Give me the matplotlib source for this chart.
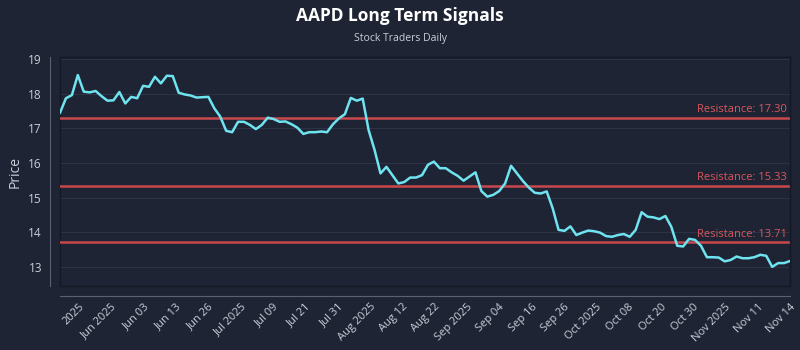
import matplotlib
matplotlib.use('Agg')
import matplotlib.pyplot as plt
import numpy as np
from matplotlib.patches import Rectangle

# closing prices (one per trading day)
prices = [
    17.45, 17.87, 17.96, 18.54, 18.06, 18.04, 18.08, 17.93, 17.80, 17.81,
    18.05, 17.72, 17.91, 17.87, 18.23, 18.20, 18.49, 18.30, 18.52, 18.51,
    18.03, 17.98, 17.95, 17.89, 17.90, 17.91, 17.58, 17.34, 16.93, 16.89,
    17.19, 17.19, 17.10, 16.98, 17.10, 17.31, 17.27, 17.19, 17.20, 17.12,
    17.02, 16.84, 16.89, 16.89, 16.91, 16.89, 17.12, 17.29, 17.41, 17.88,
    17.80, 17.86, 16.95, 16.38, 15.70, 15.89, 15.65, 15.41, 15.45, 15.58,
    15.58, 15.65, 15.95, 16.04, 15.85, 15.85, 15.73, 15.63, 15.49, 15.61,
    15.73, 15.19, 15.03, 15.08, 15.19, 15.41, 15.92, 15.70, 15.48, 15.29,
    15.14, 15.12, 15.18, 14.70, 14.07, 14.04, 14.17, 13.92, 13.99, 14.05,
    14.03, 13.99, 13.89, 13.87, 13.92, 13.95, 13.87, 14.07, 14.58, 14.45,
    14.43, 14.38, 14.47, 14.16, 13.61, 13.59, 13.81, 13.78, 13.61, 13.28,
    13.28, 13.27, 13.16, 13.20, 13.30, 13.25, 13.25, 13.28, 13.35, 13.32,
    13.00, 13.11, 13.11, 13.17,
]
resistance = [17.30, 15.33, 13.71]
tick_labels = [
    '2025', 'Jun 2025', 'Jun 03', 'Jun 13', 'Jun 26', 'Jul 2025', 'Jul 09',
    'Jul 21', 'Jul 31', 'Aug 2025', 'Aug 12', 'Aug 22', 'Sep 2025', 'Sep 04',
    'Sep 16', 'Sep 26', 'Oct 2025', 'Oct 08', 'Oct 20', 'Oct 30', 'Nov 2025',
    'Nov 11', 'Nov 14',
]

bg = '#1e2433'
txt = '#c9ced8'
plt.rcParams['font.family'] = ['Open Sans', 'DejaVu Sans']

fig = plt.figure(figsize=(8, 3.5), dpi=100, facecolor=bg)
ax = fig.add_axes([0.075, 0.183, 0.9125, 0.654], facecolor=bg)

# spines first: moving them resets the tick labels
for s in ['left', 'bottom']:
    ax.spines[s].set_position(('outward', 7))
    ax.spines[s].set_color('#5a6170')
for s in ['top', 'right']:
    ax.spines[s].set_color('#141925')
ax.add_patch(Rectangle((0, 0), 1, 1, transform=ax.transAxes, fill=False,
                       edgecolor='#141925', lw=1, clip_on=False, zorder=1))

x = np.arange(len(prices))
ax.plot(x, prices, color='#6fe3f0', lw=1.8, zorder=3)

for r in resistance:
    ax.axhline(r, color='#c9474d', lw=1.8, zorder=2)
    ax.text(len(prices) - 1.5, r + 0.08, f'Resistance: {r:.2f}', color='#d9575c',
            fontsize=8, ha='right', va='bottom', zorder=4)

ax.set_xlim(0, len(prices) - 1)
ax.set_ylim(12.45, 19.06)
ax.set_yticks([13, 14, 15, 16, 17, 18, 19])
ax.grid(axis='y', color='#2b3345', lw=0.8)
ax.set_axisbelow(True)

ax.set_xticks(np.linspace(3.2, len(prices) - 1, len(tick_labels)))
ax.set_xticklabels(tick_labels)
ax.tick_params(axis='both', length=0, colors=txt, labelsize=8)
ax.tick_params(axis='y', labelsize=8.5, pad=6)
ax.tick_params(axis='x', pad=4)
plt.setp(ax.get_xticklabels(), rotation=45, ha='right', va='top',
         rotation_mode='anchor')

ax.set_ylabel('Price', color=txt, fontsize=10, labelpad=4)

fig.text(0.5, 0.955, 'AAPD Long Term Signals', color='white', fontsize=12.5,
         fontweight='bold', ha='center', va='center')
fig.text(0.5, 0.89, 'Stock Traders Daily', color=txt, fontsize=7.5,
         ha='center', va='center')

fig.savefig('out.png', dpi=100, facecolor=bg)
